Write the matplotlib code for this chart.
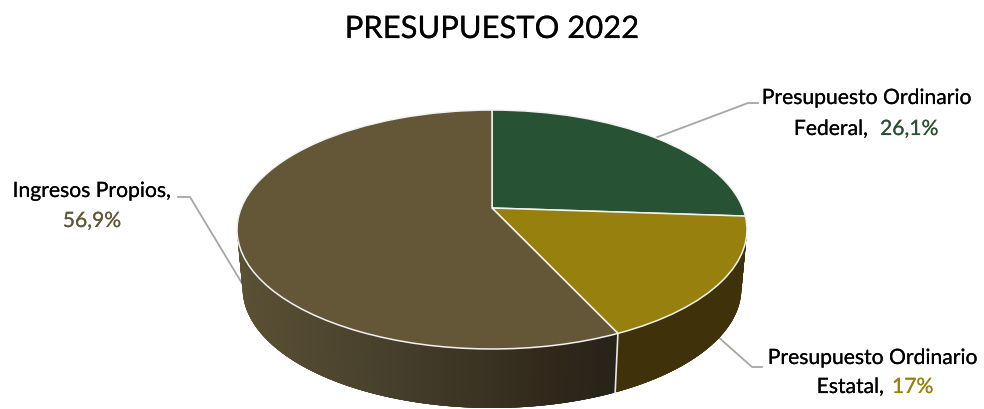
import numpy as np
import matplotlib
matplotlib.use('Agg')
import matplotlib.pyplot as plt
import matplotlib.patheffects as pe
from matplotlib.collections import PolyCollection
from matplotlib.transforms import Transform

plt.rcParams['font.family'] = ['Lato', 'DejaVu Sans']

# DATOS.
CATEGORIAS = ['Presupuesto Ordinario Federal', 'Presupuesto Ordinario Estatal', 'Ingresos Propios']
VALORES = [26.1, 17, 56.9]
ETIQUETAS = ['26,1%', '17%', '56,9%']
TITULO = 'PRESUPUESTO 2022'

COLOR_TOP = ['#275233', '#98800f', '#635738']
COLOR_TXT = ['#2a5233', '#97800f', '#63573a']
COLOR_LADO_E = '#3f320a'

# perspectiva del disco: centro en (492,208), borde en pixeles de la imagen.
CX, CY, GX, GY, K = 492, 208, 250.8, 115.6, 0.18
ALTO, ESC_BASE = 59, 0.978


class Perspectiva(Transform):
    input_dims = 2
    output_dims = 2

    def transform_non_affine(self, xy):
        xy = np.asarray(xy)
        d = 1 + K * xy[:, 1]
        return np.column_stack([CX + GX * xy[:, 0] / d, CY - GY * xy[:, 1] / d])


def borde(ang):
    # ang en grados, horario desde las 12.
    r = np.radians(ang)
    return Perspectiva().transform_non_affine(np.column_stack([np.sin(r), np.cos(r)]))


def base(p):
    q = p.copy()
    q[:, 0] = CX + (q[:, 0] - CX) * ESC_BASE
    q[:, 1] += ALTO
    return q


fig = plt.figure(figsize=(9.84, 4.09), dpi=100)
ax = fig.add_axes([0, 0, 1, 1])

# lineas guia.
GUIAS = [[(655, 138), (748, 103), (758, 103)],
         [(716, 335), (752, 367), (762, 367)],
         [(246, 290), (190, 197), (178, 197)]]
for g in GUIAS:
    ax.plot(*zip(*g), color='#a6a6a6', lw=1.3, zorder=1)

# pared lateral: cada tramo se solapa con los siguientes para que no queden rayas.
cortes = np.cumsum([0] + VALORES) * 3.6
angs = np.linspace(94, 266, 345)
tramos, colores = [], []
for i in range(len(angs) - 1):
    p = borde(angs[i:i + 5])
    tramos.append(np.vstack([p, base(p)[::-1]]))
    am = (angs[i] + angs[i + 1]) / 2
    if am < cortes[2]:
        colores.append(COLOR_LADO_E)
    else:
        xm = p[:2, 0].mean()
        rgb = [np.interp(xm, [240, 400, 560, 618], c)
               for c in ([90, 69, 48, 38], [80, 62, 39, 35], [52, 43, 26, 26])]
        colores.append(np.array(rgb) / 255)
ax.add_collection(PolyCollection(tramos, facecolors=colores, edgecolors='none', zorder=2))

# separador de la pared.
j = borde(np.array([cortes[2]]))
ax.plot([j[0, 0], base(j)[0, 0]], [j[0, 1], base(j)[0, 1]], color='#e8e8e8', lw=1.2, zorder=3)

# cara superior.
wedges, _ = ax.pie(VALORES, colors=COLOR_TOP, startangle=90, counterclock=False,
                   wedgeprops={'edgecolor': '#f2f2f2', 'linewidth': 1.1})
for w in wedges:
    w.set_transform(Perspectiva() + ax.transData)
    w.set_zorder(4)

ax.set_aspect('auto')
ax.set_xlim(0, 984)
ax.set_ylim(409, 0)
ax.axis('off')


def texto(x, y, s, ha='center', color='k', fs=15.2):
    t = ax.text(x, y, s, ha=ha, va='center', fontsize=fs, color=color)
    t.set_path_effects([pe.withStroke(linewidth=0.12, foreground=color)])


# textos.
texto(492.5, 29, TITULO, fs=22.3)

texto(867, 98, 'Presupuesto Ordinario')
texto(868, 129, 'Federal,', ha='right')
texto(880, 129, ETIQUETAS[0], ha='left', color=COLOR_TXT[0])

texto(873, 358, 'Presupuesto Ordinario')
texto(884, 387, 'Estatal,', ha='right')
texto(892, 387, ETIQUETAS[1], ha='left', color=COLOR_TXT[1])

texto(92, 191, 'Ingresos Propios,')
texto(92, 221, ETIQUETAS[2], color=COLOR_TXT[2])

plt.savefig('out.png', dpi=100)
plt.close()
